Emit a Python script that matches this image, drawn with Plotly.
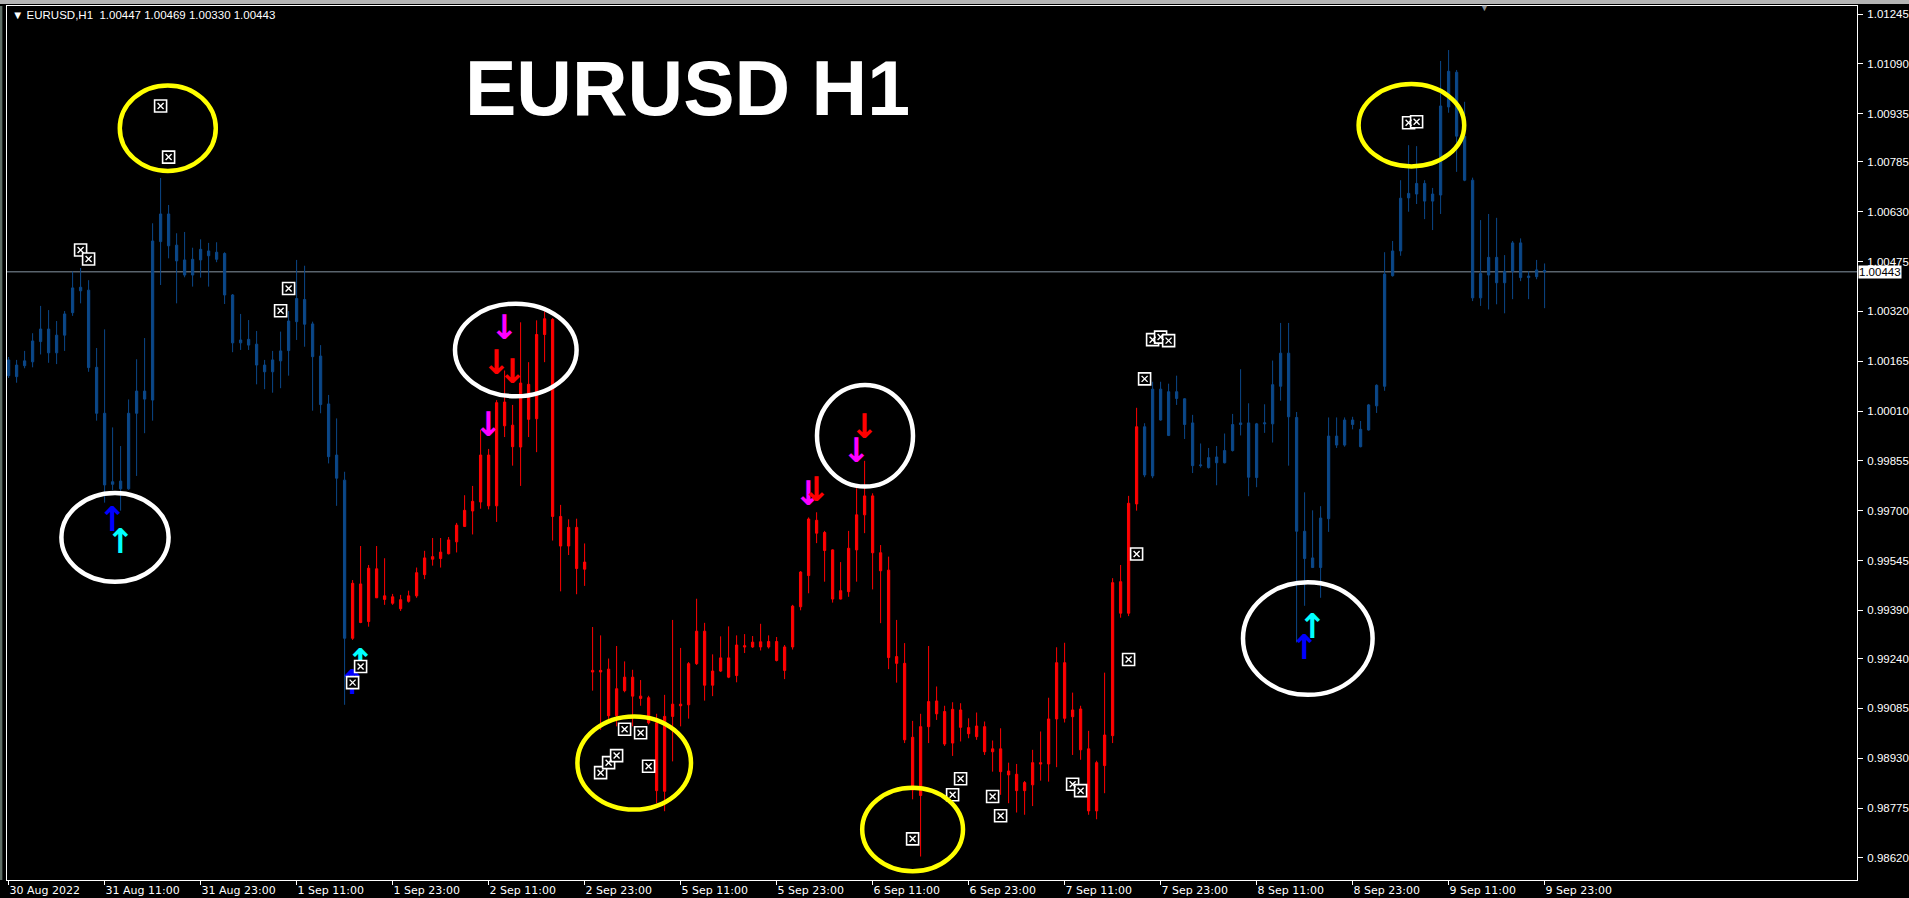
import plotly.graph_objects as go

# ---------------- data (EURUSD H1, bar index 0 = 30 Aug 2022 23:00) ----------------
open_ = [1.00169,1.00117,1.00151,1.00163,1.00226,1.00265,1.00191,1.00246,1.00316,1.00384,
         1.00386,1.00146,1.00003,0.99782,0.99792,0.99768,1.00003,1.00072,1.00044,1.00537,
         1.00623,1.00526,1.00480,1.00433,1.00480,1.00508,1.00482,1.00500,1.00371,1.00222,
         1.00233,1.00218,1.00153,1.00132,1.00166,1.00198,1.00288,1.00357,1.00281,1.00181,
         1.00032,0.99873,0.99795,0.99303,0.99472,0.99355,0.99519,0.99435,0.99412,0.99423,
         0.99418,0.99435,0.99501,0.99549,0.99551,0.99566,0.99603,0.99651,0.99699,0.99727,
         0.99873,0.99715,1.00038,0.99966,0.99898,1.00093,0.99986,1.00248,1.00295,0.99682,
         0.99590,0.99648,0.99518,0.99203,0.99198,0.99207,0.99062,0.99140,0.99182,0.99123,
         0.99118,0.99040,0.98827,0.99060,0.99098,0.99096,0.99224,0.99325,0.99157,0.99201,
         0.99242,0.99187,0.99280,0.99276,0.99292,0.99276,0.99293,0.99276,0.99276,0.99401,
         0.99498,0.99670,0.99632,0.99578,0.99425,0.99448,0.99578,0.99687,0.99746,0.99569,
         0.99515,0.99246,0.99225,0.98995,0.98814,0.99028,0.99108,0.99075,0.98977,0.99080,
         0.99025,0.98997,0.99028,0.98950,0.98959,0.98890,0.98880,0.98829,0.98847,0.98916,
         0.98912,0.99052,0.99227,0.99059,0.99083,0.98959,0.98766,0.98907,0.99000,0.99479,
         0.99381,0.99721,0.99961,0.99808,1.00078,0.99934,1.00070,1.00048,0.99973,0.99840,
         0.99834,0.99867,0.99849,0.99887,0.99968,0.99973,0.99803,0.99970,0.99970,1.00087,
         1.00190,0.99990,0.99636,0.99553,0.99523,0.99675,0.99932,0.99904,0.99982,0.99953,
         0.99951,1.00026,1.00087,1.00431,1.00508,1.00673,1.00685,1.00718,1.00663,1.00682,
         1.00956,1.01064,1.00865,1.00728,1.00362,1.00433,1.00488,1.00409,1.00445,1.00533,
         1.00425,1.00428,1.00447]
high_ = [1.00178,1.00169,1.00197,1.00252,1.00337,1.00324,1.00290,1.00321,1.00444,1.00455,
         1.00417,1.00206,1.00264,0.99959,0.99901,1.00046,1.00171,1.00237,1.00594,1.00735,
         1.00651,1.00563,1.00567,1.00518,1.00544,1.00533,1.00535,1.00504,1.00374,1.00312,
         1.00293,1.00259,1.00169,1.00197,1.00257,1.00321,1.00480,1.00462,1.00288,1.00215,
         1.00060,0.99987,0.99821,0.99484,0.99590,0.99531,0.99590,0.99552,0.99441,0.99438,
         0.99451,0.99523,0.99575,0.99615,0.99615,0.99618,0.99662,0.99748,0.99777,0.99951,
         0.99892,1.00044,1.00136,1.00029,1.00286,1.00162,1.00292,1.00320,1.00299,0.99718,
         0.99673,0.99675,0.99598,0.99338,0.99312,0.99240,0.99279,0.99231,0.99205,0.99173,
         0.99124,0.99068,0.99127,0.99360,0.99273,0.99229,0.99426,0.99351,0.99253,0.99309,
         0.99340,0.99312,0.99316,0.99310,0.99348,0.99312,0.99307,0.99282,0.99407,0.99512,
         0.99679,0.99695,0.99637,0.99580,0.99540,0.99637,0.99770,0.99855,0.99754,0.99593,
         0.99557,0.99360,0.99288,0.99046,0.99068,0.99279,0.99153,0.99093,0.99104,0.99101,
         0.99054,0.99072,0.99044,0.98985,0.99023,0.98916,0.98912,0.98859,0.98956,0.99013,
         0.99118,0.99275,0.99289,0.99134,0.99093,0.99015,0.98922,0.99196,0.99490,0.99531,
         0.99746,1.00020,0.99972,1.00101,1.00101,1.00095,1.00120,1.00050,0.99998,0.99909,
         0.99895,0.99901,0.99940,1.00001,1.00140,1.00034,0.99973,1.00031,1.00167,1.00284,
         1.00284,1.00007,0.99757,0.99701,0.99714,0.99990,0.99990,0.99990,0.99992,0.99979,
         1.00032,1.00093,1.00504,1.00539,1.00728,1.00837,1.00834,1.00728,1.00704,1.01099,
         1.01133,1.01071,1.00972,1.00736,1.00604,1.00623,1.00611,1.00495,1.00539,1.00547,
         1.00445,1.00480,1.00469]
low_ = [1.00113,1.00098,1.00143,1.00146,1.00186,1.00160,1.00156,1.00197,1.00306,1.00345,
        1.00132,0.99980,0.99725,0.99764,0.99700,0.99765,0.99808,0.99941,0.99980,1.00402,
        1.00485,1.00345,1.00426,1.00397,1.00425,1.00397,1.00473,1.00343,1.00193,1.00200,
        1.00200,1.00093,1.00078,1.00067,1.00081,1.00120,1.00231,1.00210,1.00011,1.00003,
        0.99847,0.99715,0.99096,0.99298,0.99350,0.99339,0.99428,0.99407,0.99407,0.99388,
        0.99414,0.99429,0.99487,0.99529,0.99523,0.99564,0.99570,0.99649,0.99626,0.99706,
        0.99704,0.99665,0.99929,0.99840,0.99777,0.99929,0.99882,1.00162,0.99607,0.99449,
        0.99562,0.99440,0.99466,0.99140,0.99018,0.99051,0.99029,0.99135,0.99029,0.99093,
        0.99035,0.98790,0.98765,0.98920,0.99029,0.99053,0.99220,0.99109,0.99123,0.99198,
        0.99179,0.99166,0.99257,0.99273,0.99265,0.99271,0.99231,0.99176,0.99268,0.99390,
        0.99443,0.99599,0.99479,0.99414,0.99424,0.99432,0.99479,0.99630,0.99455,0.99350,
        0.99207,0.99165,0.98977,0.98802,0.98624,0.98977,0.99049,0.98968,0.98937,0.98982,
        0.98992,0.98987,0.98940,0.98888,0.98816,0.98790,0.98761,0.98754,0.98781,0.98860,
        0.98857,0.98902,0.99041,0.98940,0.98925,0.98754,0.98740,0.98821,0.98977,0.99367,
        0.99372,0.99700,0.99804,0.99801,0.99980,0.99932,1.00029,0.99923,0.99817,0.99834,
        0.99831,0.99779,0.99847,0.99884,0.99934,0.99745,0.99773,0.99942,0.99912,1.00042,
        0.99840,0.99290,0.99404,0.99522,0.99429,0.99634,0.99895,0.99899,0.99953,0.99897,
        0.99949,1.00004,1.00073,1.00428,1.00493,1.00630,1.00654,1.00607,1.00573,1.00623,
        1.00938,1.00754,1.00725,1.00352,1.00337,1.00326,1.00342,1.00314,1.00358,1.00414,
        1.00358,1.00420,1.00330]
close_ = [1.00120,1.00153,1.00166,1.00228,1.00265,1.00191,1.00246,1.00312,1.00393,1.00395,
          1.00145,1.00003,0.99780,0.99790,0.99768,1.00003,1.00072,1.00047,1.00539,1.00623,
          1.00524,1.00477,1.00433,1.00482,1.00513,1.00493,1.00504,1.00371,1.00222,1.00231,
          1.00215,1.00153,1.00132,1.00169,1.00197,1.00290,1.00360,1.00280,1.00179,1.00030,
          0.99868,0.99801,0.99303,0.99474,0.99352,0.99521,0.99429,0.99424,0.99432,0.99395,
          0.99435,0.99507,0.99553,0.99557,0.99571,0.99609,0.99655,0.99701,0.99729,0.99873,
          0.99715,1.00036,0.99964,0.99899,1.00097,0.99984,1.00248,1.00297,0.99682,0.99590,
          0.99648,0.99520,0.99540,0.99198,0.99203,0.99062,0.99146,0.99182,0.99123,0.99116,
          0.99040,0.98829,0.99060,0.99098,0.99093,0.99224,0.99325,0.99157,0.99201,0.99242,
          0.99182,0.99282,0.99276,0.99291,0.99276,0.99293,0.99234,0.99203,0.99403,0.99509,
          0.99674,0.99630,0.99576,0.99425,0.99451,0.99583,0.99687,0.99746,0.99569,0.99513,
          0.99243,0.99225,0.98987,0.98831,0.99028,0.99106,0.99068,0.98974,0.99082,0.99026,
          0.99006,0.99030,0.98950,0.98959,0.98888,0.98878,0.98829,0.98854,0.98916,0.98912,
          0.99052,0.99227,0.99054,0.99080,0.98956,0.98766,0.98916,0.99002,0.99476,0.99381,
          0.99723,0.99961,0.99811,1.00078,0.99982,1.00070,1.00049,0.99968,0.99840,0.99842,
          0.99865,0.99849,0.99887,0.99968,0.99973,0.99804,0.99970,0.99973,1.00092,1.00190,
          0.99992,0.99636,0.99551,0.99523,0.99677,0.99932,0.99904,0.99982,0.99968,0.99899,
          1.00029,1.00090,1.00436,1.00508,1.00672,1.00687,1.00718,1.00663,1.00685,1.00959,
          1.01067,1.00865,1.00728,1.00362,1.00438,1.00488,1.00409,1.00445,1.00533,1.00425,
          1.00430,1.00449,1.00443]

# indicator regime: bars coloured red between these bar indices, blue elsewhere
red_first_bar = 43
red_last_bar = 141

time_tick_bars = [0, 12, 24, 36, 48, 60, 72, 84, 96, 108, 120, 132, 144, 156, 168, 180, 192]
time_tick_labels = ["30 Aug 2022", "31 Aug 11:00", "31 Aug 23:00", "1 Sep 11:00", "1 Sep 23:00",
                    "2 Sep 11:00", "2 Sep 23:00", "5 Sep 11:00", "5 Sep 23:00", "6 Sep 11:00",
                    "6 Sep 23:00", "7 Sep 11:00", "7 Sep 23:00", "8 Sep 11:00", "8 Sep 23:00",
                    "9 Sep 11:00", "9 Sep 23:00"]
price_ticks = [1.01245, 1.01090, 1.00935, 1.00785, 1.00630, 1.00475, 1.00320, 1.00165, 1.00010,
               0.99855, 0.99700, 0.99545, 0.99390, 0.99240, 0.99085, 0.98930, 0.98775, 0.98620]

# signal arrows
up_arrow_bars = [13, 14, 43, 44, 162, 163]
up_arrow_prices = [0.99662, 0.99596, 0.99155, 0.99220, 0.99264, 0.99329]
up_arrow_colors = ["#0000FF", "#00FFFF", "#0000FF", "#00FFFF", "#0000FF", "#00FFFF"]
down_arrow_bars = [60, 61, 62, 63, 100, 101, 106, 107]
down_arrow_prices = [0.99960, 1.00153, 1.00259, 1.00125, 0.99743, 0.99758, 0.99879, 0.99954]
down_arrow_colors = ["#FF00FF", "#FF0000", "#FF00FF", "#FF0000", "#FF00FF", "#FF0000", "#FF00FF", "#FF0000"]

# boxed-x markers
box_bars = [9, 10, 19, 20, 34, 35, 43, 44, 74, 75, 76, 77, 79, 80, 113, 118, 119, 123, 124,
            133, 134, 140, 141, 142, 143, 144, 145, 175, 176]
box_prices = [1.00511, 1.00483, 1.00959, 1.00800, 1.00322, 1.00391, 0.99165, 0.99215,
              0.98885, 0.98916, 0.98938, 0.99020, 0.99009, 0.98905, 0.98679, 0.98816, 0.98866,
              0.98811, 0.98751, 0.98849, 0.98829, 0.99237, 0.99565, 1.00110, 1.00232, 1.00240,
              1.00229, 1.00907, 1.00910]

# hand-drawn ellipses (centre bar, centre price, half width in bars, half height in price)
ellipse_bar = [19.9, 13.3, 63.4, 107.05, 78.2, 113.0, 162.4, 175.35]
ellipse_price = [1.00890, 0.99617, 1.00200, 0.99933, 0.98915, 0.98708, 0.99302, 1.00899]
ellipse_half_bars = [6.0, 6.7, 7.6, 6.0, 7.1, 6.3, 8.1, 6.6]
ellipse_half_price = [0.00133, 0.00138, 0.00144, 0.00158, 0.00145, 0.00130, 0.00175, 0.00128]
ellipse_colors = ["#FFFF00", "#FFFFFF", "#FFFFFF", "#FFFFFF", "#FFFF00", "#FFFF00", "#FFFFFF", "#FFFF00"]

symbol_name = "EURUSD"
timeframe = "H1"

# ---------------- figure ----------------
BLUE = "#0B4788"
RED = "#FF0000"

fig = go.Figure()

all_bars = list(range(len(open_)))
red_bars = [i for i in all_bars if red_first_bar <= i <= red_last_bar]
blue_bars = [i for i in all_bars if not (red_first_bar <= i <= red_last_bar)]


def add_candles(bars, color):
    fig.add_trace(go.Candlestick(
        x=bars,
        open=[open_[i] for i in bars], high=[high_[i] for i in bars],
        low=[low_[i] for i in bars], close=[close_[i] for i in bars],
        increasing=dict(line=dict(color=color, width=1), fillcolor=color),
        decreasing=dict(line=dict(color=color, width=1), fillcolor=color),
        whiskerwidth=0, hoverinfo="skip", showlegend=False))


add_candles(blue_bars, BLUE)
add_candles(red_bars, RED)

fig.add_trace(go.Scatter(x=up_arrow_bars, y=up_arrow_prices, mode="text",
                         text=["\u2191"] * len(up_arrow_bars),
                         textfont=dict(color=up_arrow_colors, size=34, family="DejaVu Sans", weight="bold"),
                         textposition="middle center", hoverinfo="skip", showlegend=False))
fig.add_trace(go.Scatter(x=down_arrow_bars, y=down_arrow_prices, mode="text",
                         text=["\u2193"] * len(down_arrow_bars),
                         textfont=dict(color=down_arrow_colors, size=34, family="DejaVu Sans", weight="bold"),
                         textposition="middle center", hoverinfo="skip", showlegend=False))

fig.add_trace(go.Scatter(x=box_bars, y=box_prices, mode="markers",
                         marker=dict(symbol="square", size=12, color="black",
                                     line=dict(color="white", width=1.6)),
                         hoverinfo="skip", showlegend=False))
fig.add_trace(go.Scatter(x=box_bars, y=box_prices, mode="markers",
                         marker=dict(symbol="x-thin", size=6, color="white",
                                     line=dict(color="white", width=1.4)),
                         hoverinfo="skip", showlegend=False))

shapes = []
for cb, cp, hb, hp, col in zip(ellipse_bar, ellipse_price, ellipse_half_bars, ellipse_half_price, ellipse_colors):
    shapes.append(dict(type="circle", xref="x", yref="y", x0=cb - hb, x1=cb + hb,
                       y0=cp - hp, y1=cp + hp, line=dict(color=col, width=4.5), layer="above"))

last_close = close_[-1]
shapes.append(dict(type="line", xref="paper", yref="y", x0=0, x1=1, y0=last_close, y1=last_close,
                   line=dict(color="#8795A3", width=1), layer="below"))
# window chrome
shapes.append(dict(type="rect", xref="paper", yref="paper", x0=-0.01, x1=1.03, y0=1.0023, y1=1.0075,
                   line=dict(width=0), fillcolor="#B4B4B4", layer="above"))
shapes.append(dict(type="rect", xref="paper", yref="paper", x0=-0.0038, x1=-0.0025, y0=0.0, y1=1.0,
                   line=dict(width=0), fillcolor="#5F6E66", layer="above"))

annotations = [
    dict(xref="paper", yref="paper", x=0.368, y=0.906, xanchor="center", yanchor="middle",
         text="<b>%s %s</b>" % (symbol_name, timeframe), showarrow=False,
         font=dict(family="Liberation Sans", size=77, color="white")),
    dict(xref="paper", yref="paper", x=0.0016, y=0.9897, xanchor="left", yanchor="middle",
         text="\u25BC\u00a0%s,%s\u00a0\u00a0%.5f %.5f %.5f %.5f" % (symbol_name, timeframe, open_[-1], high_[-1], low_[-1], close_[-1]),
         showarrow=False, font=dict(family="Liberation Sans", size=11.5, color="white")),
    dict(xref="paper", yref="y", x=1.0, y=last_close, xanchor="left", yanchor="middle",
         text="%.5f" % last_close, showarrow=False, bgcolor="white", borderpad=0, xshift=1,
         font=dict(family="Liberation Sans", size=11.5, color="black")),
    dict(xref="paper", yref="paper", x=0.7989, y=0.9975, xanchor="center", yanchor="middle",
         text="\u25BC", showarrow=False, font=dict(size=9, color="#8A8F96")),
]

fig.update_layout(
    width=1909, height=898, autosize=False,
    margin=dict(l=7, r=52, t=6, b=18, pad=0),
    paper_bgcolor="black", plot_bgcolor="black",
    showlegend=False, boxgap=0.6, boxmode="overlay",
    font=dict(family="Liberation Sans", color="white", size=12),
    shapes=shapes, annotations=annotations,
    hovermode=False,
)
fig.update_xaxes(range=[-0.2, 231.05], showgrid=False, zeroline=False,
                 showline=True, linecolor="white", linewidth=1, mirror=True,
                 tickmode="array", tickvals=time_tick_bars, ticktext=time_tick_labels,
                 ticks="outside", ticklen=4, tickcolor="white", tickwidth=1,
                 tickfont=dict(family="DejaVu Sans", size=11, color="white"),
                 ticklabelposition="outside right",
                 rangeslider=dict(visible=False), automargin=False, fixedrange=True)
fig.update_yaxes(range=[0.98551, 1.01270], side="right", showgrid=False, zeroline=False,
                 showline=True, linecolor="white", linewidth=1, mirror=True,
                 tickmode="array", tickvals=price_ticks, ticktext=["%.5f" % v for v in price_ticks],
                 ticks="outside", ticklen=5, tickcolor="white", tickwidth=1,
                 ticklabelstandoff=2,
                 tickfont=dict(family="Liberation Sans", size=11.5, color="white"),
                 automargin=False, fixedrange=True)

fig.write_html("out.html", config={"displayModeBar": False, "staticPlot": True},
               post_script="document.body.style.margin='0';document.body.style.overflow='hidden';")
